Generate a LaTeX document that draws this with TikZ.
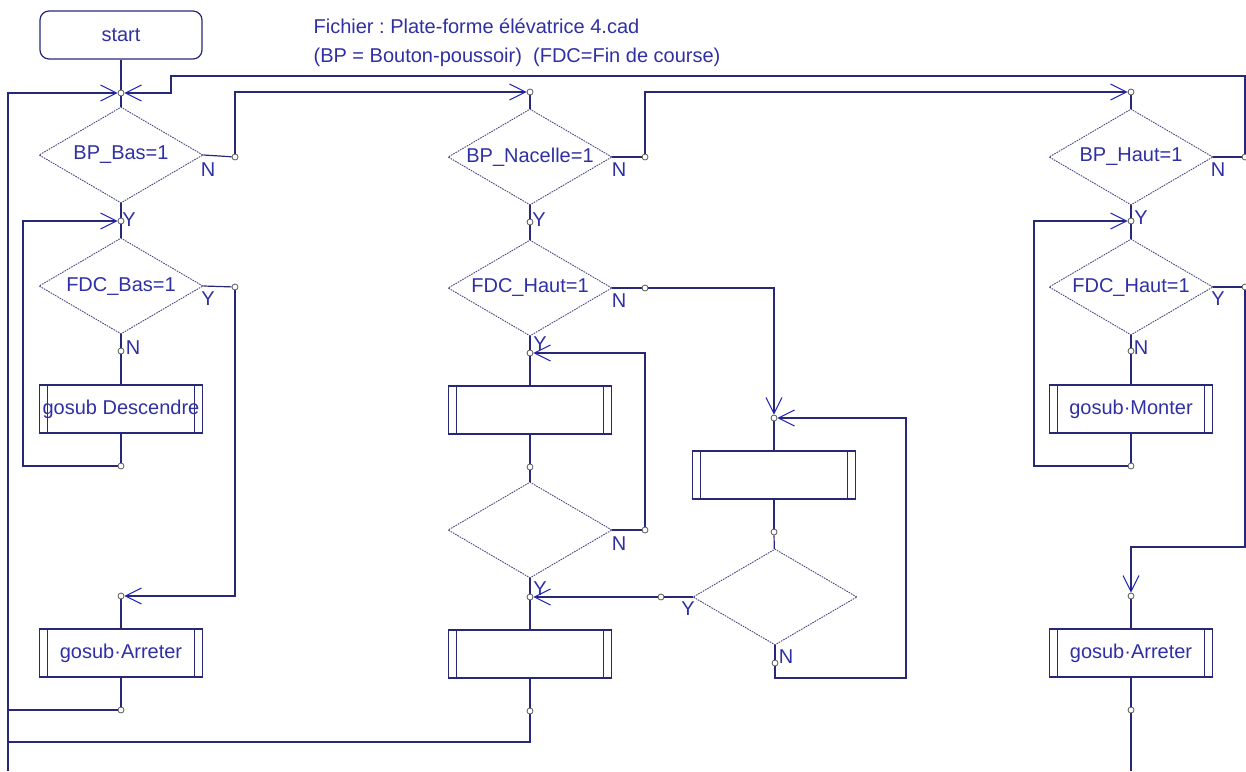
\documentclass[tikz,border=0pt]{standalone}
\usepackage{fontspec}
\setmainfont{Liberation Sans}
\usetikzlibrary{shapes.geometric,arrows.meta}
\frenchspacing

\definecolor{wire}{RGB}{40,40,120}
\definecolor{ink}{RGB}{48,48,165}
\definecolor{edge}{RGB}{70,70,130}
\definecolor{feather}{RGB}{30,30,185}

\begin{document}
\begin{tikzpicture}[
  x=1pt, y=-1pt,
  color=wire, line width=1.2pt,
  every node/.style={text=ink, font=\fontsize{20}{23}\selectfont},
  terminal/.style={draw=wire, rounded corners=9pt, minimum width=162pt,
                   minimum height=48pt, inner sep=0pt},
  decision/.style={draw=edge, diamond, line width=0.9pt, dash pattern=on 1.6pt off 1pt,
                   minimum width=164pt, minimum height=96pt, inner sep=0pt},
  sub/.style={draw=wire, minimum width=163pt, minimum height=48pt, inner sep=0pt,
              path picture={\draw[wire, line width=1.1pt]
                ([xshift=8pt]path picture bounding box.north west) -- ([xshift=8pt]path picture bounding box.south west)
                ([xshift=-8pt]path picture bounding box.north east) -- ([xshift=-8pt]path picture bounding box.south east);}},
  pin/.style={circle, draw=black!65, fill=white, line width=0.8pt,
              minimum size=6pt, inner sep=0pt},
  yn/.style={inner sep=0pt},
  inflow/.style={-{Straight Barb[length=16pt,width=16pt,line width=1pt,color=feather]}}
]
\useasboundingbox (0,0) rectangle (1246,771);
\fill[white] (0,0) rectangle (1246,771);

% heading
\node[anchor=base west, inner sep=0pt] (file) at (313,33) {Fichier : Plate-forme élévatrice 4.cad};
\node[anchor=base west, inner sep=0pt] (legend) at (313,62) {(BP = Bouton-poussoir)\ \ (FDC=Fin de course)};

% left column: going down
\node[terminal] (start) at (121,35) {start};
\node[pin] (jA) at (121,93) {};
\node[decision] (bpbas) at (121,155) {\makebox[0pt]{BP\_Bas=1}};
\node[pin] (jB) at (121,221) {};
\node[decision] (fdcbas) at (121,286) {\makebox[0pt]{FDC\_Bas=1}};
\node[pin] (pBasN) at (121,351) {};
\node[sub] (desc) at (121,409) {gosub Descendre};
\node[pin] (pDesc) at (121,466) {};
\node[pin] (jC) at (121,596) {};
\node[sub] (arrL) at (121,653) {gosub·Arreter};
\node[pin] (pArrL) at (121,710) {};
\node[pin] (pBasOut) at (235,157) {};
\node[pin] (pBasY) at (235,287) {};

% middle column
\node[pin] (jD) at (530,92) {};
\node[decision] (bpnac) at (530,157) {\makebox[0pt]{BP\_Nacelle=1}};
\node[pin] (pNacY) at (530,222) {};
\node[decision] (fdcM) at (530,288) {\makebox[0pt]{FDC\_Haut=1}};
\node[pin] (jE) at (530,353) {};
\node[sub] (boxM1) at (530,410) {};
\node[pin] (pM1) at (530,467) {};
\node[decision] (diaM) at (530,530) {};
\node[pin] (jF) at (530,597) {};
\node[sub] (boxM2) at (530,654) {};
\node[pin] (pM2) at (530,711) {};
\node[pin] (pNacN) at (645,157) {};
\node[pin] (pFdcMN) at (645,288) {};
\node[pin] (pDiaMN) at (645,530) {};

% side branch
\node[pin] (jG) at (774,418) {};
\node[sub] (boxR) at (774,475) {};
\node[pin] (pR) at (774,532) {};
\node[decision] (diaR) at (775,597) {};
\node[pin] (pDiaRY) at (661,597) {};
\node[pin] (pDiaRN) at (775,663) {};

% right column
\node[pin] (jH) at (1131,92) {};
\node[decision] (bphaut) at (1131,157) {\makebox[0pt]{BP\_Haut=1}};
\node[pin] (jI) at (1131,221) {};
\node[decision] (fdcR) at (1131,287) {\makebox[0pt]{FDC\_Haut=1}};
\node[pin] (pHautN) at (1131,351) {};
\node[sub] (monter) at (1131,409) {gosub·Monter};
\node[pin] (pMon) at (1131,466) {};
\node[pin] (jJ) at (1131,596) {};
\node[sub] (arrR) at (1131,653) {gosub·Arreter};
\node[pin] (pArrR) at (1131,710) {};
\node[pin] (pBpHautN) at (1245,157) {};
\node[pin] (pFdcRY) at (1245,287) {};

\coordinate (lowL) at (8,771);
\coordinate (baseL) at (8,742);
\coordinate (stepT) at (171,76);
\coordinate (stepB) at (171,93);
\coordinate (loopR) at (906,418);
\coordinate (lowR) at (1131,771);

% Y / N marks
\node[yn] (nBas) at (208,170) {N};
\node[yn] (yBas) at (129,220) {Y};
\node[yn] (yFdcBas) at (208,299) {Y};
\node[yn] (nFdcBas) at (133,348) {N};
\node[yn] (nNac) at (619,170) {N};
\node[yn] (yNac) at (539,220) {Y};
\node[yn] (nFdcM) at (619,301) {N};
\node[yn] (yFdcM) at (540,344) {Y};
\node[yn] (nDiaM) at (619,544) {N};
\node[yn] (yDiaM) at (540,589) {Y};
\node[yn] (yDiaR) at (688,609) {Y};
\node[yn] (nDiaR) at (786,657) {N};
\node[yn] (nHaut) at (1218,170) {N};
\node[yn] (yHaut) at (1141,218) {Y};
\node[yn] (yFdcR) at (1218,299) {Y};
\node[yn] (nFdcR) at (1141,348) {N};

% left column links
\draw (start) -- (jA);
\draw (jA) -- (bpbas);
\draw (bpbas) -- (jB);
\draw (jB) -- (fdcbas);
\draw (fdcbas) -- (pBasN);
\draw (pBasN) -- (desc);
\draw (desc) -- (pDesc);
\draw[inflow] (pDesc) -- ++(-98,0) |- (jB);
\draw (bpbas.east) -- (pBasOut);
\draw[inflow] (pBasOut) |- (jD);
\draw (fdcbas.east) -- (pBasY);
\draw[inflow] (pBasY) |- (jC);
\draw (jC) -- (arrL);
\draw (arrL) -- (pArrL);
\draw (pArrL) -- (pArrL -| lowL);
\draw[inflow] (lowL) |- (jA);
\draw[inflow] (pBpHautN) |- (stepT) -- (stepB) -- (jA);

% middle column links
\draw (jD) -- (bpnac);
\draw (bpnac) -- (pNacY);
\draw (pNacY) -- (fdcM);
\draw (fdcM) -- (jE);
\draw (jE) -- (boxM1);
\draw (boxM1) -- (pM1);
\draw (pM1) -- (diaM);
\draw (diaM) -- (jF);
\draw (jF) -- (boxM2);
\draw (boxM2) -- (pM2);
\draw (pM2) |- (baseL);
\draw (bpnac.east) -- (pNacN);
\draw[inflow] (pNacN) |- (jH);
\draw (fdcM.east) -- (pFdcMN);
\draw[inflow] (pFdcMN) -| (jG);
\draw (diaM.east) -- (pDiaMN);
\draw[inflow] (pDiaMN) |- (jE);
\draw (jG) -- (boxR);
\draw (boxR) -- (pR);
\draw (pR) -- (diaR);
\draw (diaR.west) -- (pDiaRY);
\draw[inflow] (pDiaRY) -- (jF);
\draw (diaR) -- (pDiaRN);
\draw[inflow] (pDiaRN) -- ++(0,15) -| (loopR) -- (jG);

% right column links
\draw (jH) -- (bphaut);
\draw (bphaut) -- (jI);
\draw (jI) -- (fdcR);
\draw (fdcR) -- (pHautN);
\draw (pHautN) -- (monter);
\draw (monter) -- (pMon);
\draw[inflow] (pMon) -- ++(-97,0) |- (jI);
\draw (bphaut.east) -- (pBpHautN);
\draw (fdcR.east) -- (pFdcRY);
\draw[inflow] (pFdcRY) -- ++(0,260) -| (jJ);
\draw (jJ) -- (arrR);
\draw (arrR) -- (pArrR);
\draw (pArrR) -- (lowR);
\end{tikzpicture}
\end{document}
